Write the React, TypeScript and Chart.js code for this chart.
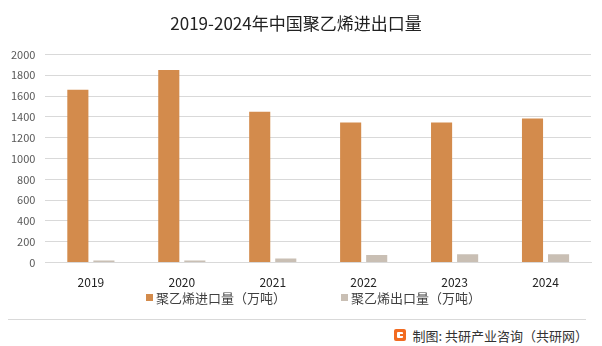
import React, { useEffect, useRef } from "react";
import { Chart, registerables } from "chart.js";

Chart.register(...registerables);

const years = ["2019", "2020", "2021", "2022", "2023", "2024"];
const importValues = [1660, 1850, 1450, 1345, 1345, 1385];
const exportValues = [20, 20, 40, 73, 80, 80];
const seriesNames = ["聚乙烯进口量（万吨）", "聚乙烯出口量（万吨）"];
const seriesColors = ["#D38B4C", "#C9BFB4"];
const titleText = "2019-2024年中国聚乙烯进出口量";
const footerText = "制图: 共研产业咨询（共研网）";

const FONT = "'Noto Sans CJK SC', 'Microsoft YaHei', sans-serif";

export default function App() {
  const ref = useRef<HTMLCanvasElement>(null);
  useEffect(() => {
    if (!ref.current) return;
    const chart = new Chart(ref.current, {
      type: "bar",
      data: {
        labels: years,
        datasets: [0, 1].map((i) => ({
          label: seriesNames[i],
          data: i === 0 ? importValues : exportValues,
          backgroundColor: seriesColors[i],
          categoryPercentage: 0.573,
          barPercentage: 0.81,
        })),
      },
      options: {
        responsive: false,
        animation: false,
        layout: { padding: { left: 1, right: 11, top: 0, bottom: 0 } },
        plugins: {
          title: {
            display: true,
            text: titleText,
            color: "#222",
            font: { family: FONT, size: 17, weight: "normal" },
            padding: { top: 13, bottom: 21 },
          },
          legend: { display: false },
          tooltip: { enabled: false },
        },
        scales: {
          x: {
            grid: { display: false },
            border: { display: true, color: "#D9D9D9" },
            ticks: { color: "#222", font: { family: FONT, size: 12 }, padding: 5 },
          },
          y: {
            min: 0,
            max: 2000,
            ticks: {
              stepSize: 200,
              autoSkip: false,
              color: "#595959",
              font: { family: FONT, size: 11 },
              padding: 10,
              callback: (v: any) => String(v),
            },
            grid: { color: "#D9D9D9", drawTicks: false },
            border: { display: false },
          },
        },
      },
    });
    return () => chart.destroy();
  }, []);
  return (
    <div style={{ position: "absolute", left: 0, top: 0, width: 602, height: 346, background: "#fff", overflow: "hidden" }}>
      <canvas ref={ref} width={602} height={295} style={{ display: "block" }} />
      <div style={{ position: "absolute", left: 146, top: 288, height: 18, display: "flex", alignItems: "center", fontFamily: FONT, fontSize: 13, color: "#404040", whiteSpace: "nowrap" }}>
        <span style={{ display: "inline-block", width: 7, height: 7, background: seriesColors[0], marginRight: 3 }} />
        <span>{seriesNames[0]}</span>
        <span style={{ display: "inline-block", width: 7, height: 7, background: seriesColors[1], marginLeft: 55, marginRight: 3 }} />
        <span>{seriesNames[1]}</span>
      </div>
      <div style={{ position: "absolute", left: 8, top: 319, width: 578, height: 1, background: "#D9D9D9" }} />
      <div style={{ position: "absolute", right: 14, top: 326, height: 18, display: "flex", alignItems: "center", fontFamily: FONT, fontSize: 13, color: "#333", whiteSpace: "nowrap" }}>
        <span style={{ display: "inline-block", width: 12, height: 12, background: "#F26B21", borderRadius: 2, marginRight: 6, position: "relative" }}>
          <span style={{ position: "absolute", left: 3, top: 3, width: 6, height: 6, background: "#fff", borderRadius: 1 }} />
          <span style={{ position: "absolute", left: 6, top: 5, width: 6, height: 2, background: "#F26B21" }} />
        </span>
        {footerText}
      </div>
    </div>
  );
}
